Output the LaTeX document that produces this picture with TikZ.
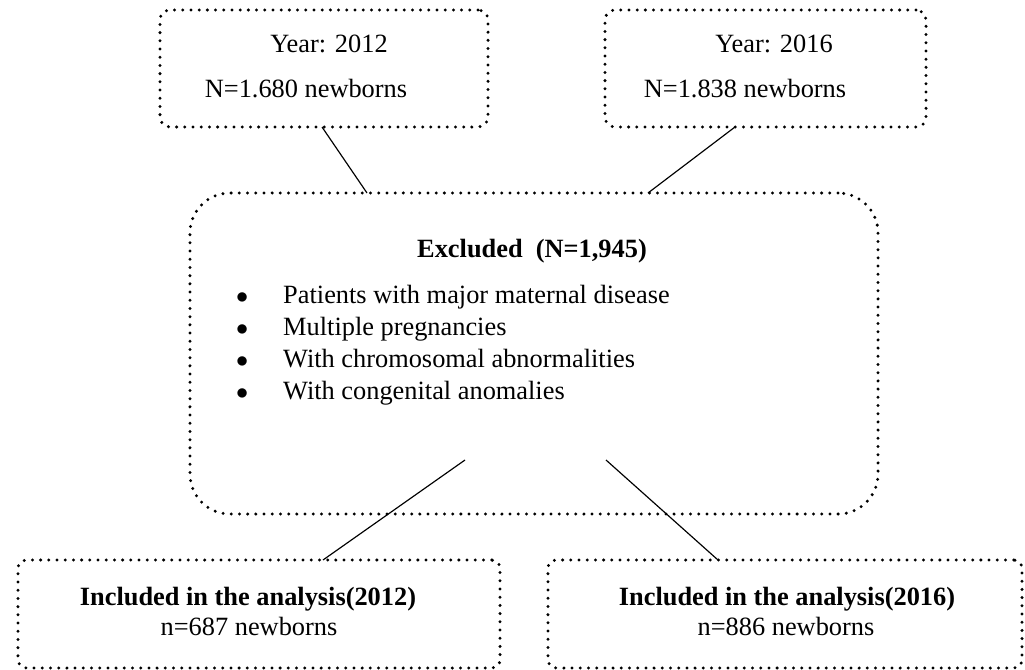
\documentclass[tikz,border=0pt]{standalone}
\usepackage{tikz}
\usepackage{xcolor}
\usepackage{fontspec}
\setmainfont{Liberation Serif}

\begin{document}
\begin{tikzpicture}[x=0.03cm, y=-0.03cm]
            % Styles
            \tikzstyle{dotbox} = [rectangle, draw=black, line width=2.8pt, dash pattern=on 0pt off 7pt, line cap=round, inner sep=0pt, outer sep=0pt, rounded corners=0.3cm]
            \tikzstyle{txt} = [inner sep=0pt, anchor=base, font=\fontsize{22.5}{27}\selectfont]
            \tikzstyle{btxt} = [txt, font=\fontsize{22.5}{27}\selectfont\bfseries]
            \tikzstyle{link} = [-, line width=1pt, black]

            \useasboundingbox (0,0) rectangle (1025,670);

            % Boxes
            \node[dotbox, minimum width=9.84cm, minimum height=3.51cm] (year12) at (324, 68.5) {};
            \node[dotbox, minimum width=9.63cm, minimum height=3.51cm] (year16) at (765.5, 68.5) {};
            \node[dotbox, minimum width=20.64cm, minimum height=9.63cm, rounded corners=1.2cm] (excl) at (534, 353.5) {};
            \node[dotbox, minimum width=14.46cm, minimum height=3.24cm, rounded corners=0.25cm] (incl12) at (259, 614) {};
            \node[dotbox, minimum width=14.22cm, minimum height=3.24cm, rounded corners=0.25cm] (incl16) at (785, 614) {};

            % Labels
            \node[txt] (y12) at (329, 52) {Year: 2012};
            \node[txt] (n12) at (306, 97) {N=1.680 newborns};
            \node[txt] (y16) at (774, 52) {Year: 2016};
            \node[txt] (n16) at (745, 97) {N=1.838 newborns};
            \node[btxt] (exhead) at (532, 257) {Excluded\ \ (N=1,945)};
            \foreach \t [count=\i] in {Patients with major maternal disease, Multiple pregnancies, With chromosomal abnormalities, With congenital anomalies}
                \node[txt, anchor=base west] (item\i) at (236, 303+32*\i-32) {\makebox[1.41cm][l]{$\bullet$}\t};
            \node[btxt] (i12) at (248, 605) {Included in the analysis(2012)};
            \node[txt] (k12) at (249, 635) {n=687 newborns};
            \node[btxt] (i16) at (787, 605) {Included in the analysis(2016)};
            \node[txt] (k16) at (786, 635) {n=886 newborns};

            % Lines
            \coordinate (out12) at (465, 460);
            \coordinate (out16) at (606, 460);
            \draw[link] ([xshift=-0.06cm]year12.south) -- ([xshift=-5.01cm]excl.north);
            \draw[link] ([xshift=-0.915cm]year16.south) -- ([xshift=3.42cm]excl.north);
            \draw[link] (out12) -- ([xshift=1.92cm]incl12.north);
            \draw[link] (out16) -- ([xshift=-2.01cm]incl16.north);
        \end{tikzpicture}
\end{document}
